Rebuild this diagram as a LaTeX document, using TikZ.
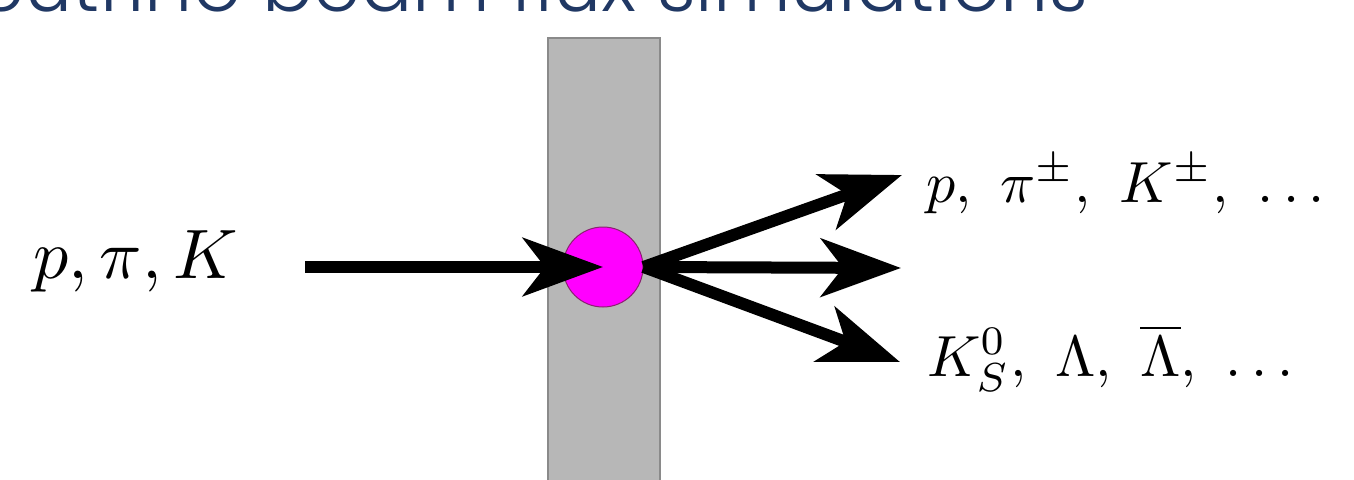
\documentclass[tikz,border=0pt]{standalone}
\usepackage{fontspec}
\newfontfamily\titlefont{Poppins Light}
\usetikzlibrary{arrows.meta}
\definecolor{titleblue}{HTML}{203864}
\definecolor{slab}{HTML}{B7B7B7}
\definecolor{slabedge}{HTML}{8A8A8A}
\definecolor{hit}{HTML}{FF00FF}
\definecolor{hitedge}{HTML}{8B2270}
\tikzset{
  titletext/.style={text=titleblue, font=\titlefont\fontsize{76}{90}\selectfont, inner sep=0pt},
  slabstyle/.style={fill=slab, draw=slabedge, line width=2pt},
  hitstyle/.style={circle, fill=hit, draw=hitedge, line width=1pt, minimum size=80pt, inner sep=0pt},
  arr/.style={line width=12pt, -{Stealth[length=80pt,width=58pt,inset=22pt]}},
  biglabel/.style={font=\fontsize{10}{12}\selectfont, scale=7, inner sep=0pt, anchor=base west},
  smalllabel/.style={font=\fontsize{10}{12}\selectfont, scale=5.8, inner sep=0pt, anchor=base west},
}
\begin{document}
\begin{tikzpicture}[x=1pt,y=-1pt]
\useasboundingbox (0,0) rectangle (1354,479);
\clip (0,0) rectangle (1354,479);
\node[titletext, anchor=base east] (title) at (1088,12) {Neutrino beam flux simulations};
\draw[slabstyle] (548,38) rectangle (660,495);
\node[hitstyle] (hit) at (603,267) {};
\coordinate (src) at (305,267);
\coordinate (tup) at (902,175);
\coordinate (tmid) at (901,268);
\coordinate (tlow) at (900,362);
\draw[arr] (src) -- (hit.center);
\draw[arr] (hit.east) -- (tup);
\draw[arr] (hit.east) -- (tmid);
\draw[arr] (hit.east) -- (tlow);
\node[biglabel] (inlab) at (32,278) {$p, \pi, K$};
\node[smalllabel] (outup) at (925,202) {$p,\ \pi^{\pm},\ K^{\pm},\ \ldots$};
\node[smalllabel] (outlow) at (926,376) {$K_S^0,\ \Lambda,\ \overline{\Lambda},\ \ldots$};
\end{tikzpicture}
\end{document}
